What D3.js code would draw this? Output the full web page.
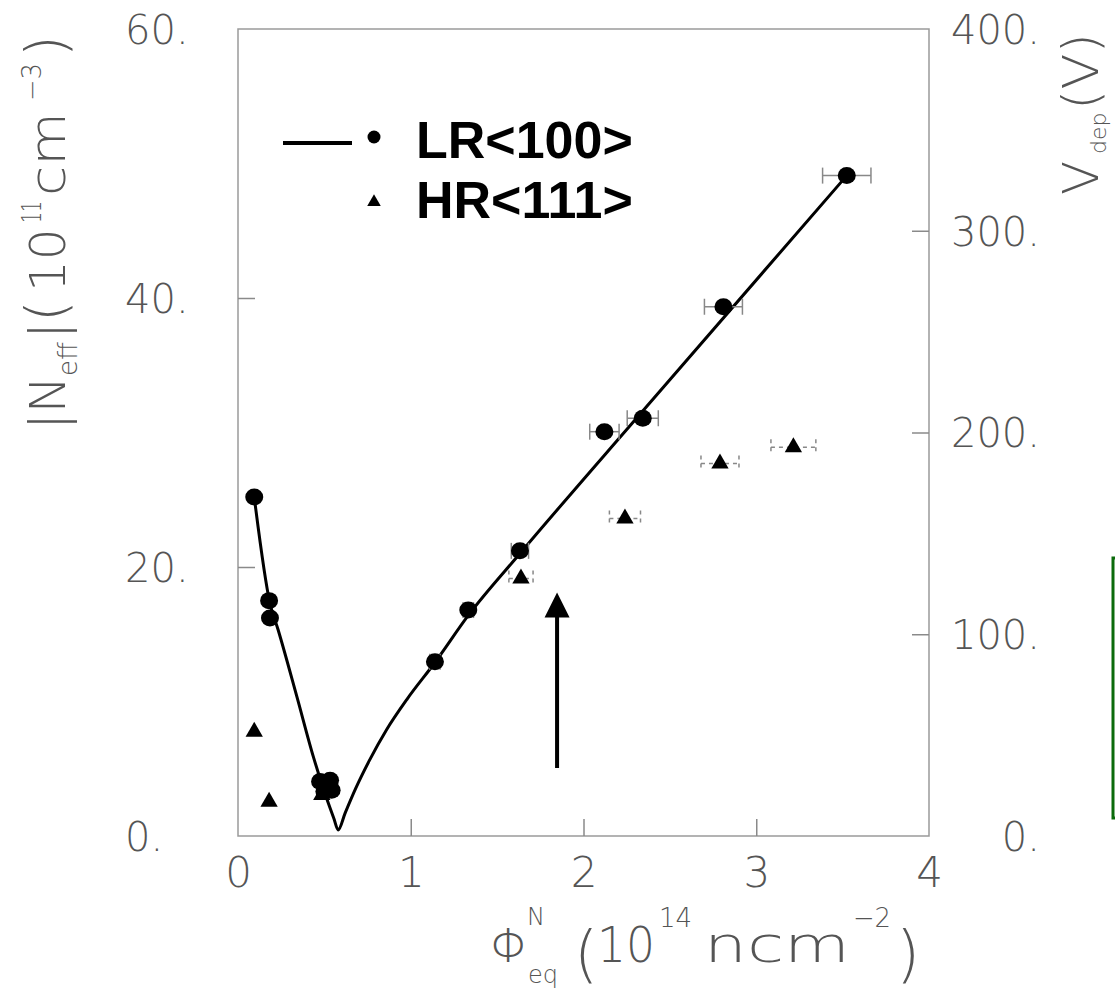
<!DOCTYPE html>
<html>
<head>
<meta charset="utf-8">
<script src="https://cdn.jsdelivr.net/npm/d3@7"></script>
<style>
  body { margin: 0; background: #fff; }
  svg { display: block; }
</style>
</head>
<body>
<div id="chart"></div>
<script>
// LR<100> points (circles)
var lrPhi  = [0.094, 0.18, 0.185, 0.475, 0.50, 0.533, 0.542, 1.14, 1.333, 1.632, 2.121, 2.343, 2.81, 3.524];
var lrNeff = [25.2, 17.5, 16.2, 4.05, 3.3, 4.15, 3.4, 12.96, 16.8, 21.2, 30.06, 31.06, 39.35, 49.1];
var lrErr  = [0, 0, 0, 0, 0, 0, 0, 0.03, 0.03, 0.05, 0.085, 0.09, 0.11, 0.14];

// HR<111> points (triangles)
var hrPhi  = [0.094, 0.18, 0.485, 1.638, 2.24, 2.79, 3.215];
var hrNeff = [7.75, 2.55, 3.05, 19.15, 23.6, 27.7, 28.9];
var hrErr  = [0, 0, 0, 0.07, 0.09, 0.11, 0.13];

// fit curve
var fitPhi  = [0.094, 0.185, 0.233, 0.34, 0.436, 0.513, 0.555, 0.58, 0.62, 0.68, 0.76, 0.86, 0.98, 1.14, 1.333, 1.632, 2.343, 3.524];
var fitNeff = [25.2, 17.3, 15.3, 10.4, 5.9, 2.8, 1.3, 0.45, 1.7, 3.5, 5.6, 7.9, 10.2, 12.9, 16.4, 21.0, 31.6, 49.1];

var xTicks = [0, 1, 2, 3, 4];
var yTicks = [0, 20, 40, 60];
var vTicks = [0, 100, 200, 300, 400];

// arrow annotation (data units)
var arrowPhi = 1.847;
var arrowFrom = 5.06;
var arrowTo = 18.1;

var W = 1115, H = 994;
var L = 238, R = 929, T = 29, B = 836;
var tickLen = 17;
var labelFont = "'DejaVu Sans', sans-serif";

var svg = d3.select("#chart").append("svg")
  .attr("width", W)
  .attr("height", H);

var x = d3.scaleLinear().domain([0, 4]).range([L, R]);
var y = d3.scaleLinear().domain([0, 60]).range([B, T]);
var yv = d3.scaleLinear().domain([0, 400]).range([B, T]);

// frame
svg.append("rect")
  .attr("x", L).attr("y", T)
  .attr("width", R - L).attr("height", B - T)
  .attr("fill", "none")
  .attr("stroke", "#9a9a9a")
  .attr("stroke-width", 1.5);

function styleAxis(g) {
  g.select(".domain").remove();
  g.selectAll(".tick line").attr("stroke", "#8a8a8a").attr("stroke-width", 1.5);
  g.selectAll(".tick text")
    .attr("fill", "#555")
    .style("font-family", labelFont)
    .style("font-weight", 200);
}

// left axis
var gy = svg.append("g")
  .attr("transform", "translate(" + L + ",0)")
  .call(d3.axisLeft(y).tickValues(yTicks).tickSize(-tickLen).tickFormat(function(d) { return d + "."; }));
styleAxis(gy);
gy.selectAll(".tick text")
  .attr("x", 125 - L)
  .attr("text-anchor", "start")
  .attr("dy", "0.36em")
  .style("font-size", "40px");
gy.selectAll(".tick line").filter(function(d) { return d == 0 || d == 60; }).remove();

// right axis
var gv = svg.append("g")
  .attr("transform", "translate(" + R + ",0)")
  .call(d3.axisRight(yv).tickValues(vTicks).tickSize(-tickLen).tickFormat(function(d) { return d + "."; }));
styleAxis(gv);
gv.selectAll(".tick text")
  .attr("x", 1040 - R)
  .attr("text-anchor", "end")
  .attr("dy", "0.36em")
  .style("font-size", "40px");
gv.selectAll(".tick line").filter(function(d) { return d == 0 || d == 400; }).remove();

// bottom axis
var gx = svg.append("g")
  .attr("transform", "translate(0," + B + ")")
  .call(d3.axisBottom(x).tickValues(xTicks).tickSize(-tickLen).tickFormat(d3.format("d")));
styleAxis(gx);
gx.selectAll(".tick text")
  .attr("y", 36)
  .attr("dy", "0.36em")
  .style("font-size", "42px");
gx.selectAll(".tick line").filter(function(d) { return d == 0 || d == 4; }).remove();

// fit curve
var fitData = fitPhi.map(function(p, i) { return [p, fitNeff[i]]; });
svg.append("path")
  .datum(fitData)
  .attr("fill", "none")
  .attr("stroke", "#000")
  .attr("stroke-width", 3)
  .attr("stroke-linejoin", "round")
  .attr("d", d3.line()
    .x(function(d) { return x(d[0]); })
    .y(function(d) { return y(d[1]); })
    .curve(d3.curveMonotoneX));

// error bars
function errorBars(phi, val, err, dashed) {
  var data = phi.map(function(p, i) { return { p: p, v: val[i], e: err[i] }; })
    .filter(function(d) { return d.e > 0; });
  var g = svg.append("g")
    .attr("stroke", "#888")
    .attr("stroke-width", 1.5)
    .attr("stroke-dasharray", dashed ? "4,4" : null);
  g.selectAll(".hbar").data(data).enter().append("line")
    .attr("x1", function(d) { return x(d.p - d.e); })
    .attr("x2", function(d) { return x(d.p + d.e); })
    .attr("y1", function(d) { return y(d.v); })
    .attr("y2", function(d) { return y(d.v); });
  [-1, 1].forEach(function(s) {
    g.selectAll(".cap" + s).data(data).enter().append("line")
      .attr("x1", function(d) { return x(d.p + s * d.e); })
      .attr("x2", function(d) { return x(d.p + s * d.e); })
      .attr("y1", function(d) { return y(d.v) - 8; })
      .attr("y2", function(d) { return y(d.v) + 8; });
  });
}
errorBars(lrPhi, lrNeff, lrErr, false);
errorBars(hrPhi, hrNeff, hrErr, true);

// circles
svg.append("g").selectAll("ellipse")
  .data(lrPhi.map(function(p, i) { return [p, lrNeff[i]]; }))
  .enter().append("ellipse")
  .attr("cx", function(d) { return x(d[0]); })
  .attr("cy", function(d) { return y(d[1]); })
  .attr("rx", 9)
  .attr("ry", 8.5)
  .attr("fill", "#000");

// triangles
var tri = d3.symbol().type(d3.symbolTriangle).size(130);
svg.append("g").selectAll("path")
  .data(hrPhi.map(function(p, i) { return [p, hrNeff[i]]; }))
  .enter().append("path")
  .attr("d", tri)
  .attr("transform", function(d) { return "translate(" + x(d[0]) + "," + y(d[1]) + ")"; })
  .attr("fill", "#000");

// arrow
svg.append("line")
  .attr("x1", x(arrowPhi)).attr("x2", x(arrowPhi))
  .attr("y1", y(arrowFrom)).attr("y2", y(arrowTo) + 20)
  .attr("stroke", "#000")
  .attr("stroke-width", 4);
svg.append("path")
  .attr("d", "M" + x(arrowPhi) + "," + y(arrowTo) +
    " L" + (x(arrowPhi) - 12.5) + "," + (y(arrowTo) + 25) +
    " L" + (x(arrowPhi) + 12.5) + "," + (y(arrowTo) + 25) + "Z")
  .attr("fill", "#000");

// legend
var leg = svg.append("g");
leg.append("line")
  .attr("x1", 283).attr("x2", 352)
  .attr("y1", 143).attr("y2", 143)
  .attr("stroke", "#000").attr("stroke-width", 4);
leg.append("circle").attr("cx", 374).attr("cy", 137).attr("r", 6.5).attr("fill", "#000");
leg.append("path")
  .attr("d", d3.symbol().type(d3.symbolTriangle).size(80))
  .attr("transform", "translate(374,202)")
  .attr("fill", "#000");
leg.selectAll("text")
  .data([["LR<100>", 158], ["HR<111>", 218]])
  .enter().append("text")
  .attr("x", 416)
  .attr("y", function(d) { return d[1]; })
  .style("font-family", "'Liberation Sans', Arial, sans-serif")
  .style("font-weight", "bold")
  .style("font-size", "52px")
  .attr("fill", "#000")
  .text(function(d) { return d[0]; });

// axis titles, built from pieces: [text, x, y, size, stretch length]
function title(g, parts) {
  g.selectAll("text").data(parts).enter().append("text")
    .attr("x", function(d) { return d[1]; })
    .attr("y", function(d) { return d[2]; })
    .attr("textLength", function(d) { return d[4] || null; })
    .attr("lengthAdjust", "spacingAndGlyphs")
    .attr("fill", "#555")
    .style("font-family", labelFont)
    .style("font-weight", 200)
    .style("font-size", function(d) { return d[3] + "px"; })
    .text(function(d) { return d[0]; });
}

title(svg.append("g"), [
  ["Φ", 490, 962, 46],
  ["N", 527, 925, 24],
  ["eq", 528, 983, 24],
  ["(", 574, 975, 62],
  ["10", 597, 962, 50, 58],
  ["14", 659, 927, 26],
  ["ncm", 704, 962, 50, 146],
  ["−2", 853, 927, 26, 38],
  [")", 896, 975, 62]
]);

title(svg.append("g").attr("transform", "translate(65,0) rotate(-90)"), [
  ["|N", -430, 0, 50],
  ["eff", -376, 12, 26],
  ["|", -339, 0, 50],
  ["(", -322, 0, 56],
  ["10", -292, 0, 50],
  ["11", -223, -24, 26, 22],
  ["cm", -196, 0, 50, 84],
  ["−3", -101, -24, 26, 38],
  [")", -57, 0, 56]
]);

title(svg.append("g").attr("transform", "translate(1098,0) rotate(-90)"), [
  ["V", -195, 0, 50],
  ["dep", -154, 8, 22],
  ["(V)", -110, 0, 50, 77]
]);

// green box at the right edge
svg.append("rect")
  .attr("x", 1113).attr("y", 558)
  .attr("width", 40).attr("height", 260)
  .attr("fill", "none")
  .attr("stroke", "#0b6b0b")
  .attr("stroke-width", 3);
</script>
</body>
</html>
